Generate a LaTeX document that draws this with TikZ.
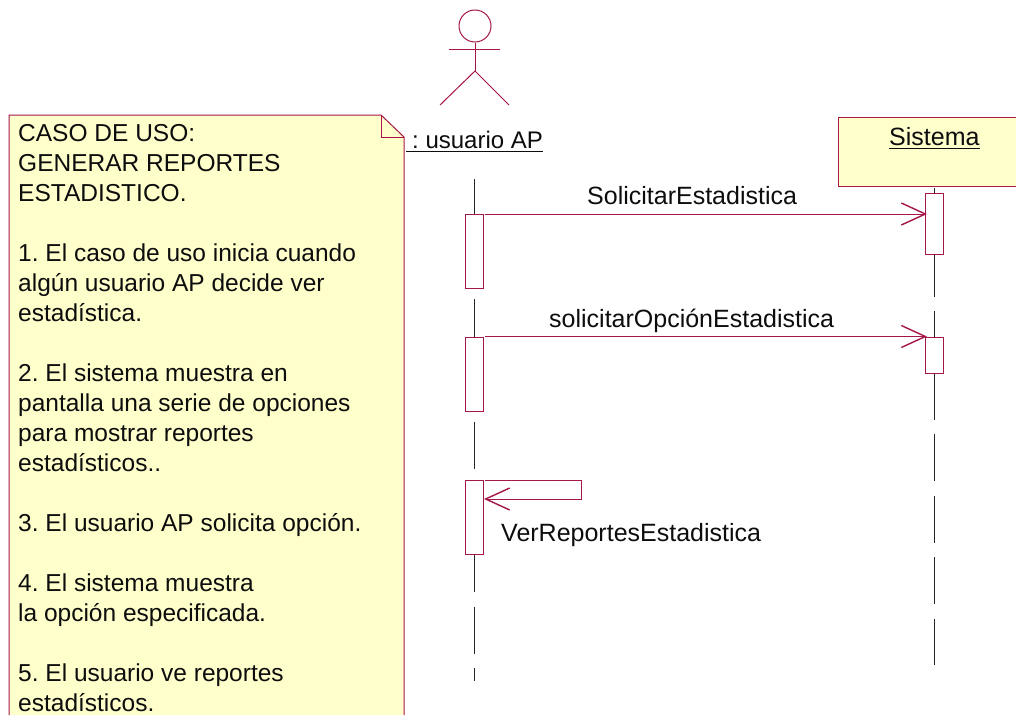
\documentclass[tikz,border=0pt]{standalone}
\usepackage{fontspec}
\setmainfont{Liberation Sans}
\usetikzlibrary{arrows.meta}
\definecolor{umlline}{HTML}{A5164B}
\definecolor{umlfill}{HTML}{FFFFCC}
\newcommand\ulbox[1]{\leavevmode\setbox0\hbox{#1}\rlap{\rule[-4.2pt]{\wd0}{1.4pt}}\box0}
\frenchspacing
\tikzset{
  umlstroke/.style={draw=umlline,line width=1.0pt},
  lifeline/.style={draw=black!85,line width=1.1pt,dash pattern=on 47pt off 14.55pt},
  activation/.style={umlstroke,fill=white,minimum width=17.5pt,inner sep=0pt,anchor=north west},
  msg/.style={umlstroke,shorten >=-2pt,-{Straight Barb[length=24pt,width=22pt,line width=1.4pt]}},
  label/.style={inner sep=0pt,anchor=base west,text=black!95,font=\fontsize{25}{30}\selectfont},
  notetext/.style={label,align=left,anchor=north west,font=\fontsize{24.5}{30}\selectfont},
}
\begin{document}
\begin{tikzpicture}[x=1pt,y=-1pt]
\useasboundingbox[fill=white] (0,0) rectangle (1016,715);
% note
\fill[umlfill] (9,115) -- (381,115) -- (404,137) -- (404,715) -- (9,715) -- cycle;
\draw[umlstroke] (9,715) -- (9,115) -- (381,115) -- (404,137) -- (404,715);
\draw[umlstroke] (381,115) -- (381,137) -- (404,137);
\node[notetext] (note) at (18,124) {CASO DE USO:\\GENERAR REPORTES\\ESTADISTICO.\\[30pt]1. El caso de uso inicia cuando\\algún usuario AP decide ver\\estadística.\\[30pt]2. El sistema muestra en\\pantalla una serie de opciones\\para mostrar reportes\\estadísticos..\\[30pt]3. El usuario AP solicita opción.\\[30pt]4. El sistema muestra\\la opción especificada.\\[30pt]5. El usuario ve reportes\\estadísticos.};
% actor
\node[umlstroke,circle,minimum size=32pt,inner sep=0pt] (head) at (475,26) {};
\coordinate (hip) at (475,71);
\coordinate (armL) at (449,49.5);
\coordinate (armR) at (500,49.5);
\coordinate (legL) at (440,105);
\coordinate (legR) at (509,105);
\draw[umlstroke] (head.south) -- (hip);
\draw[umlstroke] (armL) -- (armR);
\draw[umlstroke] (legL) -- (hip) -- (legR);
\node[label,font=\fontsize{24}{30}\selectfont] (actorname) at (406,148) {\ulbox{\hspace{6pt}: usuario AP}};
% system
\fill[umlfill] (838.5,117) rectangle (1016,186);
\draw[umlstroke] (1016,117) -- (838.5,117) -- (838.5,186) -- (1016,186);
\node[label] (sysname) at (889,145) {\ulbox{Sistema}};
% lifelines
\coordinate (l1top) at (474.5,176);
\coordinate (l1bot) at (474.5,681);
\coordinate (l2top) at (934.5,188);
\coordinate (l2bot) at (934.5,665);
\begin{scope}
\clip (460,179) rectangle (490,681);
\draw[lifeline] (l1top) -- (l1bot);
\end{scope}
\draw[lifeline] (l2top) -- (l2bot);
% activations
\node[activation,minimum height=74pt] (a1) at (465,214) {};
\node[activation,minimum height=74.5pt] (a2) at (465,336.5) {};
\node[activation,minimum height=74pt] (a3) at (465,480) {};
\node[activation,minimum height=61pt] (s1) at (925,193) {};
\node[activation,minimum height=36.5pt] (s2) at (925,336.5) {};
% messages
\draw[msg] ([xshift=1pt]a1.north east) -- (s1.west |- a1.north);
\draw[msg] ([xshift=1pt]a2.north east) -- (s2.north west);
\coordinate (loopA) at (581,480);
\coordinate (loopB) at (581,499);
\draw[msg] ([xshift=1.5pt]a3.north east) -- (loopA) -- (loopB) -- ([xshift=2.5pt]a3.east |- loopB);
% labels
\node[label] (m1) at (587,204) {SolicitarEstadistica};
\node[label] (m2) at (549,327) {solicitarOpciónEstadistica};
\node[label] (m3) at (501,541) {VerReportesEstadistica};
\end{tikzpicture}
\end{document}
